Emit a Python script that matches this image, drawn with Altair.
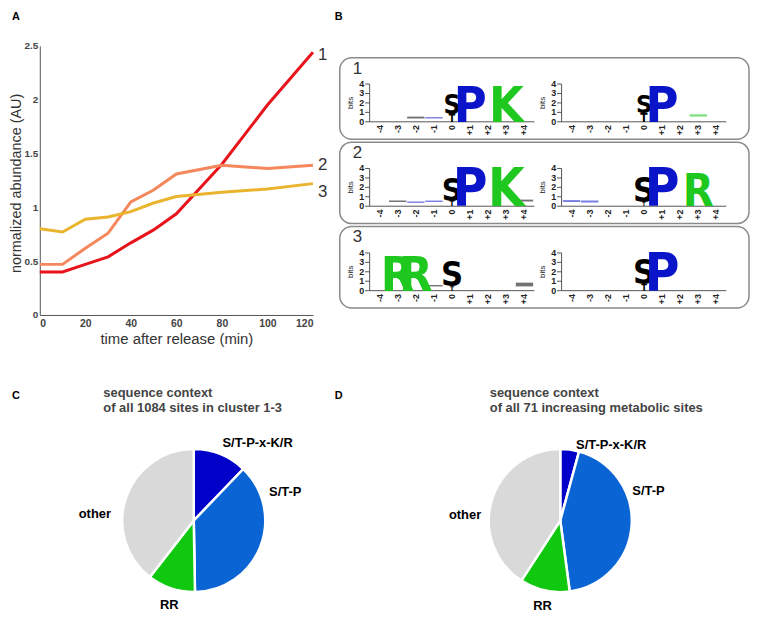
import altair as alt
import pandas as pd

FONT = "Liberation Sans"
NARROW = "'DejaVu Sans Condensed', 'Liberation Sans', sans-serif"

# ---------------- Panel A: cluster profiles ----------------
times = [0, 10, 20, 30, 40, 50, 60, 80, 100, 120]
cluster_1 = [0.40, 0.40, 0.47, 0.54, 0.67, 0.79, 0.94, 1.40, 1.95, 2.44]
cluster_2 = [0.47, 0.47, 0.62, 0.76, 1.05, 1.16, 1.31, 1.39, 1.36, 1.39]
cluster_3 = [0.80, 0.77, 0.89, 0.91, 0.96, 1.04, 1.10, 1.14, 1.17, 1.22]
cluster_names = ["1", "2", "3"]
cluster_colors = ["#e8141c", "#f4875c", "#ebb42e"]
time_ticks = [0, 20, 40, 60, 80, 100, 120]
abundance_ticks = [0, 0.5, 1, 1.5, 2, 2.5]

# ---------------- Panel B: sequence logos ----------------
positions = [-4, -3, -2, -1, 0, 1, 2, 3, 4]
position_labels = ["-4", "-3", "-2", "-1", "0", "+1", "+2", "+3", "+4"]
bit_ticks = [0, 1, 2, 3, 4]
logo_row = [1, 1, 1, 1, 1, 1, 1, 2, 2, 2, 2, 2, 2, 2, 2, 3, 3, 3, 3, 3, 3, 3]
logo_side = ["L", "L", "L", "L", "R", "R", "R",
             "L", "L", "L", "L", "R", "R", "R", "R",
             "L", "L", "L", "L", "R", "R", "R"]
logo_pos = [0, 0, 1, 3, 0, 0, 1,
            0, 0, 1, 3, 0, 0, 1, 3,
            -3, -2, 0, 0, 0, 0, 1]
logo_letter = ["T", "S", "P", "K", "T", "S", "P",
               "T", "S", "P", "K", "T", "S", "P", "R",
               "R", "R", "T", "S", "T", "S", "P"]
logo_low = [0, 0.8, 0, 0, 0, 0.9, 0,
            0, 0.6, 0, 0, 0, 0.4, 0, 0,
            0, 0, 0, 0.5, 0, 0.7, 0]
logo_high = [0.8, 2.8, 3.8, 3.8, 0.9, 2.8, 3.8,
             0.6, 3.0, 4.0, 4.0, 0.4, 3.0, 4.0, 3.4,
             3.7, 3.7, 0.5, 3.1, 0.7, 3.3, 4.0]
# low-information (squashed) letters
smear_row = [1, 1, 1, 2, 2, 2, 2, 2, 2, 3, 3]
smear_side = ["L", "L", "R", "L", "L", "L", "L", "R", "R", "L", "L"]
smear_pos = [-2, -1, 3, -3, -2, -1, 4, -4, -3, -1, 4]
smear_letter = ["S", "P", "K", "S", "P", "P", "S", "P", "P", "S", "S"]
smear_low = [0.35, 0.35, 0.55, 0.45, 0.35, 0.45, 0.5, 0.45, 0.4, 0.45, 0.45]
smear_high = [0.55, 0.5, 0.8, 0.6, 0.5, 0.6, 0.7, 0.65, 0.6, 0.6, 0.85]
letter_domain = ["S", "T", "P", "K", "R"]
letter_colors = ["#000000", "#000000", "#0a14c8", "#1ec81e", "#1ec81e"]

# ---------------- Panels C / D: pies ----------------
motifs = ["S/T-P-x-K/R", "S/T-P", "RR", "other"]
motif_colors = ["#0000c8", "#0a64d4", "#11c811", "#d9d9d9"]
sites_all = [132, 407, 117, 428]      # of 1084 sites in cluster 1-3
sites_metabolic = [3, 31, 8, 29]      # of 71 increasing metabolic sites
title_c = "sequence context\nof all 1084 sites in cluster 1-3"
title_d = "sequence context\nof all 71 increasing metabolic sites"

IND = dict(color="independent", theta="independent", size="independent", opacity="independent")


def letter_layer(letter, x, y):
    return alt.Chart(pd.DataFrame({"t": [letter]})).mark_text(
        align="left", baseline="top", fontSize=11, fontWeight="bold", font=FONT,
        color="black").encode(text="t:N", x=alt.value(x), y=alt.value(y))


# ================= Panel A =================
rows = []
for name, vals in zip(cluster_names, [cluster_1, cluster_2, cluster_3]):
    for t, v in zip(times, vals):
        rows.append({"time": t, "abundance": v, "cluster": name})
dfA = pd.DataFrame(rows)

xA = alt.Scale(domain=[0, 120], nice=False, zero=False)
yA = alt.Scale(domain=[0, 2.5], nice=False)
colA = alt.Color("cluster:N", scale=alt.Scale(domain=cluster_names, range=cluster_colors), legend=None)

lines = alt.Chart(dfA).mark_line(strokeWidth=3).encode(
    x=alt.X("time:Q", scale=xA, axis=alt.Axis(
        values=time_ticks, title="time after release (min)", ticks=False, grid=False,
        labelFont=FONT, labelFontSize=10.5, labelFontWeight="bold", labelColor="#444",
        labelPadding=4, domainColor="#555", titleFont=FONT, titleFontSize=15,
        titleFontWeight="normal", titleColor="#333", titlePadding=2)),
    y=alt.Y("abundance:Q", scale=yA, axis=alt.Axis(
        values=abundance_ticks, format="~g", title="normalized abundance (AU)", ticks=False,
        grid=False, labelFont=FONT, labelFontSize=10, labelFontWeight="bold",
        labelColor="#444", labelPadding=2, domainColor="#555", titleFont=FONT,
        titleFontSize=14.5, titleFontWeight="normal", titleColor="#333",
        titleX=-16, titleY=138, titleAngle=270, titleAlign="center", titleBaseline="bottom")),
    color=colA,
)
label_dy = [3, 0, 8]
end_labels = [
    alt.Chart(dfA).transform_filter(
        (alt.datum.cluster == n) & (alt.datum.time == times[-1])
    ).mark_text(align="left", baseline="middle", dx=5, dy=dy, fontSize=17,
                font=FONT, color="#333").encode(
        x=alt.X("time:Q", scale=xA), y=alt.Y("abundance:Q", scale=yA), text="cluster:N")
    for n, dy in zip(cluster_names, label_dy)
]
chart_a = alt.layer(lines, *end_labels, letter_layer("A", -28, -35)).properties(
    width=275, height=271)

# ================= Panel B =================
OFF = 10.6
WB = 412
xs = alt.Scale(domain=[-6.2, 16.4], nice=False, zero=False)
ys = alt.Scale(domain=[-1.84, 6.79], nice=False, zero=False)
off_expr = "datum.side == 'R' ? %s : 0" % OFF
letter_color = alt.Color("letter:N", scale=alt.Scale(domain=letter_domain, range=letter_colors), legend=None)

dfL = pd.DataFrame({"row": logo_row, "side": logo_side, "pos": logo_pos,
                    "letter": logo_letter, "low": logo_low, "high": logo_high})
dfS = pd.DataFrame({"row": smear_row, "side": smear_side, "pos": smear_pos,
                    "letter": smear_letter, "low": smear_low, "high": smear_high})
dfAxis = pd.DataFrame({"side": ["L", "R"]})
dfTicks = pd.DataFrame([{"side": s, "bit": b} for s in ["L", "R"] for b in bit_ticks])
dfPos = pd.DataFrame([{"side": s, "pos": p, "plabel": l} for s in ["L", "R"]
                      for p, l in zip(positions, position_labels)])


def X(f):
    return alt.X(f, type="quantitative", scale=xs, axis=None)


def Y(f):
    return alt.Y(f, type="quantitative", scale=ys, axis=None)


def logo_row_chart(r):
    base_rule = alt.Chart(dfAxis).transform_calculate(
        off=off_expr, x0="datum.off - 4.55", x1="datum.off + 4.55", zero="0", top="4")
    baseline = base_rule.mark_rule(color="#555", strokeWidth=1).encode(
        x=X("x0"), x2="x1:Q", y=Y("zero"))
    vaxis = base_rule.mark_rule(color="#555", strokeWidth=1).encode(
        x=X("x0"), y=Y("zero"), y2="top:Q")
    bits = base_rule.transform_calculate(xb="datum.x0 - 1.05", yb="2", t="'bits'").mark_text(
        angle=270, align="center", baseline="middle", fontSize=8, color="#222").encode(
        x=X("xb"), y=Y("yb"), text="t:N")
    tk = alt.Chart(dfTicks).transform_calculate(
        off=off_expr, x0="datum.off - 4.55", xt="datum.off - 4.8", xl="datum.off - 4.85")
    tick_rules = tk.mark_rule(color="#555", strokeWidth=1).encode(
        x=X("xt"), x2="x0:Q", y=Y("bit"))
    tick_labels = tk.mark_text(align="right", baseline="middle", fontSize=9,
                               fontWeight="bold", color="#222").encode(
        x=X("xl"), y=Y("bit"), text="bit:Q")
    pos_labels = alt.Chart(dfPos).transform_calculate(
        off=off_expr, xp="datum.off + datum.pos", yp="-0.35").mark_text(
        angle=270, align="right", baseline="middle", fontSize=9, fontWeight="bold",
        color="#222").encode(x=X("xp"), y=Y("yp"), text="plabel:N")
    smears = alt.Chart(dfS).transform_filter(alt.datum.row == r).transform_calculate(
        off=off_expr, xa="datum.off + datum.pos - 0.48", xb="datum.off + datum.pos + 0.48"
    ).mark_rect(opacity=0.55).encode(
        x=X("xa"), x2="xb:Q", y=Y("low"), y2="high:Q", color=letter_color)
    letters = alt.Chart(dfL).transform_filter(alt.datum.row == r).transform_calculate(
        off=off_expr, xc="datum.off + datum.pos", h="datum.high - datum.low"
    ).mark_text(baseline="alphabetic", align="center", font=NARROW, fontWeight="bold").encode(
        x=X("xc"), y=Y("low"), text="letter:N", color=letter_color,
        size=alt.Size("h:Q", scale=alt.Scale(domain=[0, 4], range=[0, 53], zero=True), legend=None))
    num = alt.Chart(pd.DataFrame({"row": [str(r)]})).mark_text(
        align="left", baseline="top", fontSize=17, font=FONT, color="#333").encode(
        text="row:N", x=alt.value(13), y=alt.value(3))
    return alt.layer(baseline, vaxis, bits, tick_rules, tick_labels, pos_labels,
                     smears, letters, num).properties(
        width=WB, height=82,
        view=alt.ViewBackground(stroke="#8a8a8a", strokeWidth=1.5, cornerRadius=12))


spacer_b = letter_layer("B", -5, -35).properties(width=WB, height=9)
chart_b = alt.vconcat(spacer_b, *[logo_row_chart(r) for r in [1, 2, 3]],
                      spacing=3, bounds="flush").resolve_scale(**IND)

top = alt.hconcat(chart_a, chart_b, spacing=27, bounds="flush").resolve_scale(**IND)


# ================= Panels C / D =================
def pie(values, title_text, letter, width, nudges, letter_x, title_x):
    df = pd.DataFrame({"motif": motifs, "n": values, "idx": list(range(len(motifs)))})
    df["mid"] = df["n"].cumsum() - df["n"] / 2
    color = alt.Color("motif:N", scale=alt.Scale(domain=motifs, range=motif_colors), legend=None)
    arcs = alt.Chart(df).mark_arc(outerRadius=72, stroke="white", strokeWidth=2.5).encode(
        theta=alt.Theta("n:Q", stack=True), order=alt.Order("idx:Q"), color=color)
    labels = [
        alt.Chart(df).transform_filter(alt.datum.motif == m).mark_text(
            radius=100, dx=dx, dy=dy, fontSize=13, fontWeight="bold", font=FONT,
            color="black", align="center", baseline="middle").encode(
            theta=alt.Theta("mid:Q", stack=None), text="motif:N")
        for m, (dx, dy) in zip(motifs, nudges)
    ]
    ttl = alt.Chart(pd.DataFrame({"t": [title_text]})).mark_text(
        align="left", baseline="top", fontSize=13, fontWeight="bold", font=FONT,
        color="#444", lineBreak="\n", lineHeight=15).encode(
        text="t:N", x=alt.value(title_x), y=alt.value(-59))
    return alt.layer(arcs, *labels, ttl, letter_layer(letter, letter_x, -56)).properties(
        width=width, height=150)


pie_c = pie(sites_all, title_c, "C", 310,
            [(27, 15), (-1, -65), (7, -10), (-5, 26)], -28, 64)
pie_d = pie(sites_metabolic, title_d, "D", 260,
            [(38, 23), (-11, -36), (4, -12), (0, 23)], -97, 59)
bottom = alt.hconcat(pie_c, pie_d, spacing=84, bounds="flush").resolve_scale(**IND)

chart = alt.vconcat(top, bottom, spacing=40, padding=0).resolve_scale(
    **IND).configure(font=FONT, background="white").configure_view(stroke="transparent")

chart.save("out.html", embed_options={"renderer": "svg", "actions": False})
